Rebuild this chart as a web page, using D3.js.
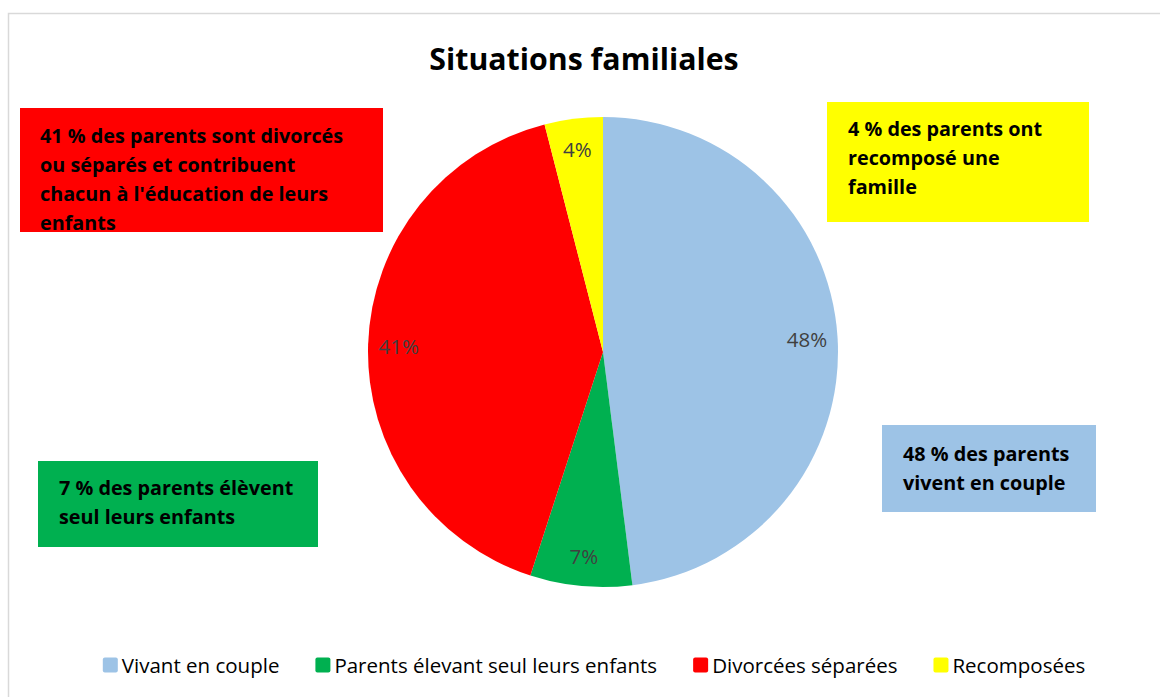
<!DOCTYPE html>
<html>
<head>
<meta charset="utf-8">
<script src="https://cdn.jsdelivr.net/npm/d3@7"></script>
<style>
  body { margin: 0; background: #fff; }
  svg { display: block; font-family: "Open Sans", Lato, sans-serif; }
</style>
</head>
<body>
<svg id="chart" width="1160" height="697"></svg>
<script>
// data
const categories = ["Vivant en couple", "Parents élevant seul leurs enfants", "Divorcées séparées", "Recomposées"];
const values = [48, 7, 41, 4];
const colors = ["#9DC3E6", "#00B050", "#FF0000", "#FFFF00"];
const callouts = [
    ["48 % des parents", "vivent en couple"],
    ["7 % des parents élèvent", "seul leurs enfants"],
    ["41 % des parents sont divorcés", "ou séparés et contribuent", "chacun à l'éducation de leurs", "enfants"],
    ["4 % des parents ont", "recomposé une", "famille"]
];
const title = "Situations familiales";

const svg = d3.select("#chart");
const W = 1160, H = 697;

// chart area border
svg.append("rect")
    .attr("x", 8.5).attr("y", 13.5)
    .attr("width", W).attr("height", H)
    .attr("fill", "#fff")
    .attr("stroke", "#d9d9d9")
    .attr("stroke-width", 1.5);

// title
svg.append("text")
    .attr("x", 584).attr("y", 58)
    .attr("text-anchor", "middle")
    .attr("dominant-baseline", "central")
    .attr("font-size", 30.3)
    .attr("font-weight", "bold")
    .attr("fill", "#000")
    .text(title);

// ------------------------------------------------------------
// PIE
// ------------------------------------------------------------
const cx = 603, cy = 352, R = 235;
const data = categories.map((c, i) => ({ name: c, value: values[i], color: colors[i] }));

const pie = d3.pie().value(d => d.value).sort(null);
const arc = d3.arc().innerRadius(0).outerRadius(R);
const labelArc = d3.arc().innerRadius(R * 0.87).outerRadius(R * 0.87);
const arcs = pie(data);

const pieG = svg.append("g").attr("transform", `translate(${cx},${cy})`);

pieG.selectAll("path")
    .data(arcs)
    .join("path")
    .attr("d", arc)
    .attr("fill", d => d.data.color);

pieG.selectAll("text")
    .data(arcs)
    .join("text")
    .attr("transform", d => `translate(${labelArc.centroid(d)})`)
    .attr("text-anchor", "middle")
    .attr("dominant-baseline", "central")
    .attr("font-size", 20.5)
    .attr("fill", "#404040")
    .text(d => d3.format(".0%")(d.data.value / 100));

// ------------------------------------------------------------
// CALLOUT BOXES (text boxes placed by hand in the original)
// ------------------------------------------------------------
const boxLayout = [
    { x: 882, y: 425, w: 214, h: 87, tx: 903, ty: 453 },
    { x: 38, y: 461, w: 280, h: 86, tx: 59, ty: 487 },
    { x: 20, y: 108, w: 363, h: 124, tx: 40, ty: 135 },
    { x: 827, y: 102, w: 262, h: 120, tx: 848, ty: 128 }
];
const lineH = 29;

const boxG = svg.append("g").attr("class", "callouts");
callouts.forEach((lines, i) => {
    const b = boxLayout[i];
    boxG.append("rect")
        .attr("x", b.x).attr("y", b.y)
        .attr("width", b.w).attr("height", b.h)
        .attr("fill", colors[i]);
    const t = boxG.append("text")
        .attr("font-size", 19.8)
        .attr("font-weight", "bold")
        .attr("fill", "#000");
    lines.forEach((ln, j) => {
        t.append("tspan")
            .attr("x", b.tx)
            .attr("y", b.ty + j * lineH)
            .attr("dominant-baseline", "central")
            .text(ln);
    });
});

// ------------------------------------------------------------
// LEGEND
// ------------------------------------------------------------
const legG = svg.append("g").attr("class", "legend");
const sw = 15, gapSw = 4, gapItem = 36, legY = 665;
const items = legG.selectAll("g.item")
    .data(data)
    .join("g")
    .attr("class", "item");
items.append("rect")
    .attr("width", sw).attr("height", sw)
    .attr("rx", 2)
    .attr("y", legY - sw / 2)
    .attr("fill", d => d.color);
items.append("text")
    .attr("x", sw + gapSw)
    .attr("y", legY)
    .attr("dominant-baseline", "central")
    .attr("font-size", 20.5)
    .attr("fill", "#000")
    .text(d => d.name);

let widths = [];
items.each(function () {
    widths.push(sw + gapSw + d3.select(this).select("text").node().getComputedTextLength());
});
const total = d3.sum(widths) + gapItem * (widths.length - 1);
let xPos = 594 - total / 2;
items.each(function (d, i) {
    d3.select(this).attr("transform", `translate(${xPos},0)`);
    xPos += widths[i] + gapItem;
});
</script>
</body>
</html>
